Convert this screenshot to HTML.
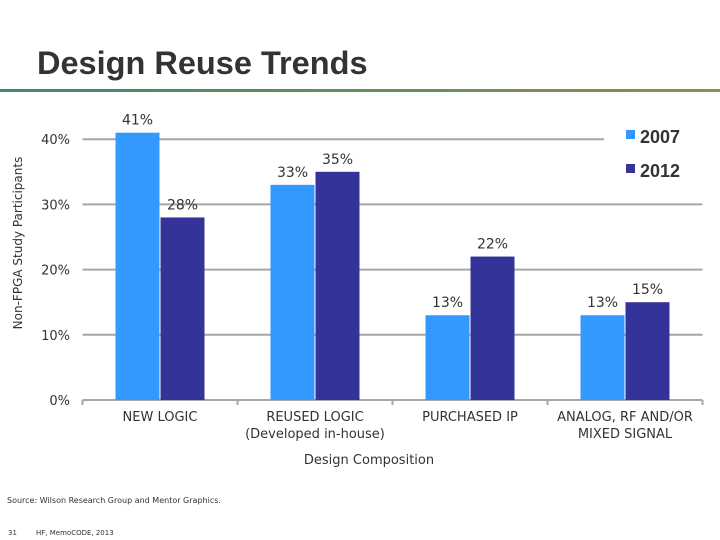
<!DOCTYPE html>
<html><head><meta charset="utf-8"><style>
body{margin:0;background:#fff;}
svg{display:block;font-family:"DejaVu Sans","Liberation Sans",sans-serif;}
</style></head><body>
<svg width="720" height="540" viewBox="0 0 720 540">
<defs><linearGradient id="g" x1="0" x2="1"><stop offset="0" stop-color="#3f8a6a"/><stop offset="1" stop-color="#8a9050"/></linearGradient></defs>
<text x="37" y="74" font-family="Liberation Sans, sans-serif" font-weight="bold" font-size="32.5" fill="#333">Design Reuse Trends</text>
<rect x="0" y="89" width="720" height="3" fill="url(#g)"/>
<g id="grid"></g>
<g id="bars"></g>
<g id="labels"></g>
<text transform="translate(22,243) rotate(-90)" text-anchor="middle" font-size="12" fill="#333">Non-FPGA Study Participants</text>
<text x="369" y="464" text-anchor="middle" font-size="13" fill="#333">Design Composition</text>
<rect x="604" y="120" width="110" height="70" fill="#fff"/>
<g><rect x="626" y="130" width="9" height="9" fill="#3399ff"/><text x="640" y="143" font-family="Liberation Sans, sans-serif" font-weight="bold" font-size="18" fill="#333">2007</text></g>
<g><rect x="626" y="164" width="9" height="9" fill="#333399"/><text x="640" y="177" font-family="Liberation Sans, sans-serif" font-weight="bold" font-size="18" fill="#333">2012</text></g>
<text x="7" y="503" font-size="8" fill="#333">Source: Wilson Research Group and Mentor Graphics.</text>
<text x="8" y="535" font-size="7" fill="#333">31</text>
<text x="36" y="535" font-size="7" fill="#333">HF, MemoCODE, 2013</text>
</svg>
<script>
const categories=[["NEW LOGIC"],["REUSED LOGIC","(Developed in-house)"],["PURCHASED IP"],["ANALOG, RF AND/OR","MIXED SIGNAL"]];
const series2007=[41,33,13,13];
const series2012=[28,35,22,15];
const yTicks=[0,10,20,30,40];
const yTickLabels=["0%","10%","20%","30%","40%"];
const NS="http://www.w3.org/2000/svg";
const x0=82.5,x1=702.5,yBase=400,pxPer=6.52;
const bw=(x1-x0)/categories.length;
const y=v=>yBase-v*pxPer;
function mk(t,a,p){const e=document.createElementNS(NS,t);for(const k in a)e.setAttribute(k,a[k]);p.appendChild(e);return e;}
const grid=document.getElementById('grid'),bars=document.getElementById('bars'),labels=document.getElementById('labels');
yTicks.forEach((v,i)=>{
 const l=mk('line',{x1:x0,x2:x1,y1:y(v),y2:y(v),stroke:'#a6a6a6','stroke-width':2},grid);
 
 
 const t=mk('text',{x:70,y:y(v)+5,'text-anchor':'end','font-size':13,fill:'#333'},grid);
 t.textContent=yTickLabels[i];
 
 
});
for(let i=0;i<=categories.length;i++){
 const tk=mk('line',{x1:x0+i*bw,x2:x0+i*bw,y1:yBase,y2:yBase+5,stroke:'#a6a6a6','stroke-width':2},grid);
 
 
}
categories.forEach((c,i)=>{
 const cx=x0+bw*(i+0.5);
 [[series2007[i],'#3399ff',cx-44.5,'2007'],[series2012[i],'#333399',cx+0.5,'2012']].forEach(([v,col,bx,s])=>{
  const r=mk('rect',{x:bx,y:y(v),width:44,height:yBase-y(v),fill:col},bars);
  
  
  const t=mk('text',{x:bx+22,y:y(v)-8,'text-anchor':'middle','font-size':14,fill:'#333'},labels);
  t.textContent=v+'%';
  
  
 });
 c.forEach((line,j)=>{
  const t=mk('text',{x:cx,y:421+j*17,'text-anchor':'middle','font-size':13,fill:'#333'},labels);
  t.textContent=line;
  
  
 });
});
</script>
</body></html>
